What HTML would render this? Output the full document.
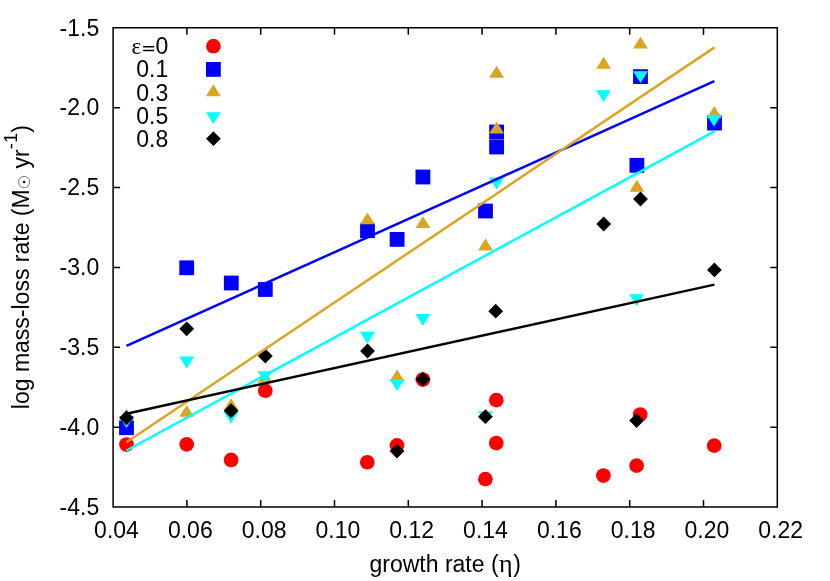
<!DOCTYPE html>
<html><head><meta charset="utf-8"><title>plot</title>
<style>
html,body{margin:0;padding:0;background:#fff;}
svg{display:block;will-change:transform;}
text{font-family:"Liberation Sans",sans-serif;font-size:23px;fill:#000;}
.sym{font-family:"Liberation Serif",serif;}
</style></head><body>
<svg width="830" height="581" viewBox="0 0 830 581">
<rect x="0" y="0" width="830" height="581" fill="#fff"/>
<g fill="#ff0000"><circle cx="213.4" cy="46.2" r="7.35"/><circle cx="126.5" cy="444.55" r="7.35"/><circle cx="186.7" cy="444.35" r="7.35"/><circle cx="231.1" cy="459.95" r="7.35"/><circle cx="265.3" cy="390.75" r="7.35"/><circle cx="367.3" cy="462.25" r="7.35"/><circle cx="397" cy="445.45" r="7.35"/><circle cx="422.9" cy="379.55" r="7.35"/><circle cx="485.4" cy="479.15" r="7.35"/><circle cx="496.3" cy="400.15" r="7.35"/><circle cx="496.3" cy="443.05" r="7.35"/><circle cx="603.4" cy="475.55" r="7.35"/><circle cx="636.6" cy="465.65" r="7.35"/><circle cx="640.2" cy="414.55" r="7.35"/><circle cx="714.2" cy="445.65" r="7.35"/></g>
<g fill="#0000ff"><rect x="206.00" y="62.00" width="14.8" height="14.8"/><rect x="119.10" y="420.30" width="14.8" height="14.8"/><rect x="179.30" y="260.40" width="14.8" height="14.8"/><rect x="223.90" y="275.60" width="14.8" height="14.8"/><rect x="257.90" y="282.10" width="14.8" height="14.8"/><rect x="360.10" y="223.30" width="14.8" height="14.8"/><rect x="389.70" y="232.00" width="14.8" height="14.8"/><rect x="415.50" y="169.60" width="14.8" height="14.8"/><rect x="478.10" y="203.60" width="14.8" height="14.8"/><rect x="489.20" y="124.60" width="14.8" height="14.8"/><rect x="489.20" y="139.60" width="14.8" height="14.8"/><rect x="629.50" y="157.90" width="14.8" height="14.8"/><rect x="633.10" y="69.20" width="14.8" height="14.8"/><rect x="707.10" y="115.70" width="14.8" height="14.8"/></g>
<g fill="#daa520"><path d="M213.40 84.35L205.95 96.25L220.85 96.25Z"/><path d="M126.50 408.65L119.05 420.55L133.95 420.55Z"/><path d="M186.70 404.95L179.25 416.85L194.15 416.85Z"/><path d="M231.10 398.15L223.65 410.05L238.55 410.05Z"/><path d="M265.10 370.95L257.65 382.85L272.55 382.85Z"/><path d="M367.50 212.45L360.05 224.35L374.95 224.35Z"/><path d="M397.10 369.55L389.65 381.45L404.55 381.45Z"/><path d="M422.90 216.15L415.45 228.05L430.35 228.05Z"/><path d="M485.50 238.55L478.05 250.45L492.95 250.45Z"/><path d="M496.60 65.85L489.15 77.75L504.05 77.75Z"/><path d="M496.60 121.55L489.15 133.45L504.05 133.45Z"/><path d="M603.60 56.75L596.15 68.65L611.05 68.65Z"/><path d="M636.90 179.85L629.45 191.75L644.35 191.75Z"/><path d="M640.50 36.65L633.05 48.55L647.95 48.55Z"/><path d="M714.30 106.05L706.85 117.95L721.75 117.95Z"/></g>
<g fill="#00ffff"><path d="M213.40 124.05L205.95 112.15L220.85 112.15Z"/><path d="M126.50 427.95L119.05 416.05L133.95 416.05Z"/><path d="M186.70 368.45L179.25 356.55L194.15 356.55Z"/><path d="M231.10 423.75L223.65 411.85L238.55 411.85Z"/><path d="M265.10 383.05L257.65 371.15L272.55 371.15Z"/><path d="M367.50 343.75L360.05 331.85L374.95 331.85Z"/><path d="M397.10 390.95L389.65 379.05L404.55 379.05Z"/><path d="M422.90 325.95L415.45 314.05L430.35 314.05Z"/><path d="M485.50 423.05L478.05 411.15L492.95 411.15Z"/><path d="M496.60 189.45L489.15 177.55L504.05 177.55Z"/><path d="M603.60 102.05L596.15 90.15L611.05 90.15Z"/><path d="M636.70 306.15L629.25 294.25L644.15 294.25Z"/><path d="M640.50 83.05L633.05 71.15L647.95 71.15Z"/><path d="M714.00 126.75L706.55 114.85L721.45 114.85Z"/></g>
<g fill="#000"><path d="M213.40 131.30L206.00 138.70L213.40 146.10L220.80 138.70Z"/><path d="M126.50 410.40L119.10 417.80L126.50 425.20L133.90 417.80Z"/><path d="M186.70 321.40L179.30 328.80L186.70 336.20L194.10 328.80Z"/><path d="M231.10 403.35L223.70 410.75L231.10 418.15L238.50 410.75Z"/><path d="M265.30 348.60L257.90 356.00L265.30 363.40L272.70 356.00Z"/><path d="M367.50 343.60L360.10 351.00L367.50 358.40L374.90 351.00Z"/><path d="M397.00 443.70L389.60 451.10L397.00 458.50L404.40 451.10Z"/><path d="M422.90 371.80L415.50 379.20L422.90 386.60L430.30 379.20Z"/><path d="M485.40 409.30L478.00 416.70L485.40 424.10L492.80 416.70Z"/><path d="M495.70 303.80L488.30 311.20L495.70 318.60L503.10 311.20Z"/><path d="M603.70 216.60L596.30 224.00L603.70 231.40L611.10 224.00Z"/><path d="M636.60 413.10L629.20 420.50L636.60 427.90L644.00 420.50Z"/><path d="M640.50 191.60L633.10 199.00L640.50 206.40L647.90 199.00Z"/><path d="M714.40 262.50L707.00 269.90L714.40 277.30L721.80 269.90Z"/></g>
<g fill="none" stroke-width="2.5"><line x1="126.45" y1="345.9" x2="714.4" y2="81.2" stroke="#0000ff"/><line x1="126.45" y1="442.2" x2="714.5" y2="47.4" stroke="#daa520"/><line x1="126.45" y1="450.5" x2="714.4" y2="131.3" stroke="#00ffff"/><line x1="126.45" y1="413.8" x2="714.4" y2="284.6" stroke="#000000"/></g>
<path d="M113.1 27.8H777.3V507.05H113.1ZM186.90 507.05v-7M186.90 27.8v7M260.70 507.05v-7M260.70 27.8v7M334.50 507.05v-7M334.50 27.8v7M408.30 507.05v-7M408.30 27.8v7M482.10 507.05v-7M482.10 27.8v7M555.90 507.05v-7M555.90 27.8v7M629.70 507.05v-7M629.70 27.8v7M703.50 507.05v-7M703.50 27.8v7M113.1 107.67h7M777.3 107.67h-7M113.1 187.55h7M777.3 187.55h-7M113.1 267.43h7M777.3 267.43h-7M113.1 347.30h7M777.3 347.30h-7M113.1 427.18h7M777.3 427.18h-7" fill="none" stroke="#000" stroke-width="1.5"/>
<text x="116.50" y="538.4" text-anchor="middle">0.04</text><text x="190.30" y="538.4" text-anchor="middle">0.06</text><text x="264.10" y="538.4" text-anchor="middle">0.08</text><text x="337.90" y="538.4" text-anchor="middle">0.10</text><text x="411.70" y="538.4" text-anchor="middle">0.12</text><text x="485.50" y="538.4" text-anchor="middle">0.14</text><text x="559.30" y="538.4" text-anchor="middle">0.16</text><text x="633.10" y="538.4" text-anchor="middle">0.18</text><text x="706.90" y="538.4" text-anchor="middle">0.20</text><text x="780.70" y="538.4" text-anchor="middle">0.22</text>
<text x="99.2" y="35.60" text-anchor="end">-1.5</text><text x="99.2" y="115.47" text-anchor="end">-2.0</text><text x="99.2" y="195.35" text-anchor="end">-2.5</text><text x="99.2" y="275.23" text-anchor="end">-3.0</text><text x="99.2" y="355.10" text-anchor="end">-3.5</text><text x="99.2" y="434.98" text-anchor="end">-4.0</text><text x="99.2" y="514.85" text-anchor="end">-4.5</text>
<text x="131.6" y="54.20" class="sym" font-size="25.5px">ε</text><path d="M143.1 46.7H154.2M143.1 50.6H154.2" stroke="#000" stroke-width="1.5" fill="none"/><text x="168.2" y="54.10" text-anchor="end">0</text><text x="168.2" y="77.30" text-anchor="end">0.1</text><text x="168.2" y="100.50" text-anchor="end">0.3</text><text x="168.2" y="123.70" text-anchor="end">0.5</text><text x="168.2" y="146.60" text-anchor="end">0.8</text>
<text x="369.5" y="572">growth rate (<tspan class="sym" font-size="26px" dx="0.5">η</tspan><tspan dx="0.5">)</tspan></text>
<g transform="translate(28.6,409.2) rotate(-90)"><text x="0" y="0">log mass-loss rate (M</text><circle cx="227.2" cy="-4.5" r="5.6" fill="none" stroke="#444" stroke-width="0.7"/><circle cx="227.2" cy="-4.5" r="1.2" fill="#000"/><text x="240.8" y="0">yr<tspan dy="-11.8" font-size="18.4px">-1</tspan><tspan dy="11.8">)</tspan></text></g>
</svg></body></html>
